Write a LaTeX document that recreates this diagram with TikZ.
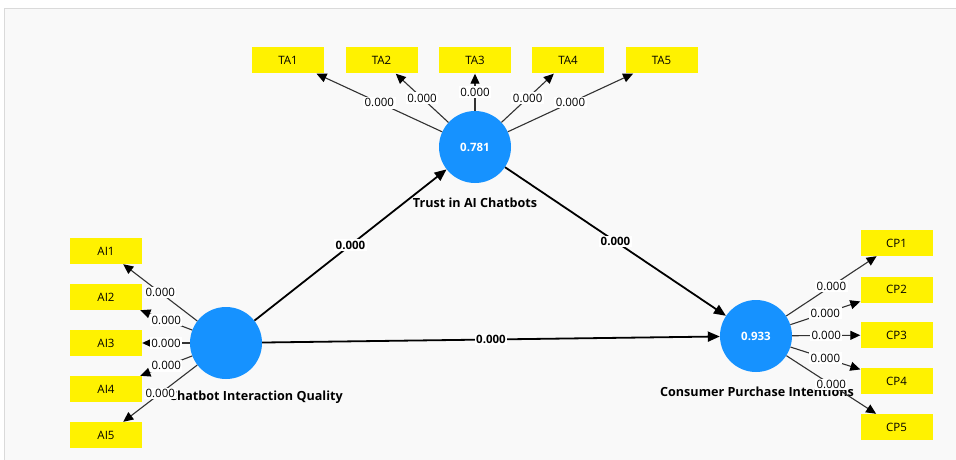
\documentclass[tikz,border=0pt]{standalone}
\usepackage{fontspec}
\setmainfont{Open Sans}
\usetikzlibrary{arrows.meta}
\definecolor{lvblue}{RGB}{22,146,255}
\definecolor{bgpanel}{RGB}{249,249,249}
\definecolor{framegray}{RGB}{218,218,218}
\definecolor{edgegray}{RGB}{50,50,50}
\tikzset{
  indbox/.style={rectangle, fill=yellow, minimum width=72pt, minimum height=26pt, inner sep=0pt, font=\fontsize{11.5}{13}\selectfont},
  lv/.style={circle, fill=lvblue, minimum size=72pt, inner sep=0pt, text=white, font=\fontsize{11.5}{13}\selectfont\bfseries},
  lvname/.style={font=\fontsize{12.6}{14}\selectfont\bfseries, inner sep=0pt},
  load/.style={draw=edgegray, line width=1.1pt, -{Triangle[length=10pt,width=9pt,black]}},
  path/.style={draw=black, line width=1.8pt, -{Triangle[length=12pt,width=10pt]}},
  wlab/.style={fill=white, inner sep=1.5pt, font=\fontsize{11.5}{13}\selectfont, text=black},
  blab/.style={fill=white, inner sep=1.5pt, font=\fontsize{11.5}{13}\selectfont\bfseries, text=black}
}
\begin{document}
\begin{tikzpicture}[x=1pt,y=-1pt]
\useasboundingbox (0,0) rectangle (956,460);
\fill[white] (0,0) rectangle (956,460);
\fill[bgpanel] (5,9) rectangle (956,460);
\draw[framegray, line width=1.6pt] (4.5,460) -- (4.5,8.5) -- (956,8.5);

% indicator boxes
\node[indbox] (TA1) at (288,60.5) {TA1};
\node[indbox] (TA2) at (381.5,60.5) {TA2};
\node[indbox] (TA3) at (475,60.5) {TA3};
\node[indbox] (TA4) at (568,60.5) {TA4};
\node[indbox] (TA5) at (661.5,60.5) {TA5};

\node[indbox] (AI1) at (106,251) {AI1};
\node[indbox] (AI2) at (106,297) {AI2};
\node[indbox] (AI3) at (106,343) {AI3};
\node[indbox] (AI4) at (106,389) {AI4};
\node[indbox] (AI5) at (106,435) {AI5};

\node[indbox] (CP1) at (896.5,243) {CP1};
\node[indbox] (CP2) at (896.5,289.5) {CP2};
\node[indbox] (CP3) at (896.5,335) {CP3};
\node[indbox] (CP4) at (896.5,381) {CP4};
\node[indbox] (CP5) at (896.5,427) {CP5};

% latent variables
\node[lv] (TR) at (475,147) {0.781};
\node[lv] (CI) at (226,343) {};
\node[lv] (CPI) at (756,336) {0.933};

% names
\node[lvname] (TRn) at (475,202.5) {Trust in AI Chatbots};
\node[lvname, anchor=east] (CIn) at (343,397) {Chatbot Interaction Quality};
\node[lvname] (CPIn) at (757,392) {Consumer Purchase Intentions};

% structural paths
\draw[path] (CI) -- node[blab] {0.000} (TR);
\draw[path] (TR) -- node[blab] {0.000} (CPI);
\draw[path] (CI) -- node[blab] {0.000} (CPI);

% loadings
\foreach \i in {1,...,5} {
  \draw[load] (TR) -- node[wlab] {0.000} (TA\i);
  \draw[load] (CI) -- node[wlab] {0.000} (AI\i);
  \draw[load] (CPI) -- node[wlab] {0.000} (CP\i);
}
\end{tikzpicture}
\end{document}
